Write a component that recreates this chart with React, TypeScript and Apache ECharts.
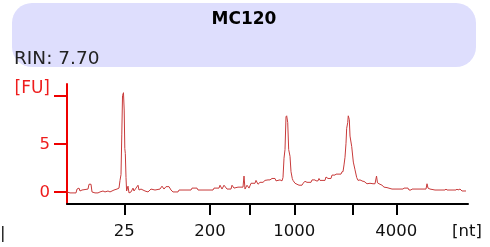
import React, { useEffect, useRef } from "react";
import * as echarts from "echarts";

// Ladder: size (nt) and migration time (s) of each x-axis tick
const ladderNt = [25, 200, 500, 1000, 2000, 4000];
const ladderTime = [26.16, 36.88, 41.81, 47.41, 54.66, 60.16];
const labeledNt = [25, 200, 1000, 4000];

// Fluorescence axis
const fuTicks = [0, 5, 10];
const fuLabels = [0, 5];

// Electropherogram trace: migration time (s) and fluorescence (FU)
const traceTime = [
  19.0, 19.375, 20.125, 20.25, 20.5, 20.625, 20.875, 21.25, 21.625, 21.75, 22.0, 22.125, 22.5, 22.875,
  23.125, 23.5, 23.75, 24.125, 24.375, 24.875, 25.25, 25.5, 25.625, 25.75, 25.85, 25.94, 26.06, 26.15,
  26.225, 26.29, 26.375, 26.45, 26.625, 26.75, 27.0, 27.25, 27.375, 27.625, 27.875, 28.0, 28.25, 28.75,
  29.125, 29.5, 30.0, 30.625, 30.875, 31.125, 31.375, 31.75, 32.0, 32.25, 32.875, 33.0, 34.5, 34.625,
  35.25, 35.375, 37.25, 37.375, 38.0, 38.125, 38.375, 38.625, 39.0, 39.5, 39.625, 39.875, 40.375, 41.0,
  41.125, 41.25, 41.5, 41.75, 42.0, 42.5, 42.625, 42.875, 43.125, 43.5, 43.75, 44.125, 44.375, 44.625,
  45.0, 45.125, 45.625, 45.875, 46.0, 46.125, 46.25, 46.375, 46.46, 46.59, 46.71, 46.875, 47.0, 47.16,
  47.25, 47.5, 48.0, 48.375, 48.5, 48.75, 49.0, 49.5, 49.625, 50.0, 50.125, 50.375, 50.5, 50.625, 51.25,
  51.375, 51.625, 52.0, 52.125, 52.5, 52.625, 53.25, 53.375, 53.5, 53.625, 53.75, 53.875, 53.96, 54.09,
  54.16, 54.29, 54.375, 54.59, 54.79, 55.0, 55.21, 55.375, 55.625, 56.0, 56.125, 56.5, 56.875, 57.25,
  57.5, 57.69, 57.81, 58.0, 58.375, 58.625, 59.0, 59.625, 61.0, 61.125, 61.625, 61.75, 62.0, 62.125,
  63.875, 64.0, 64.125, 64.375, 65.0, 66.25, 66.375, 66.5, 67.625, 67.75, 67.875, 68.125, 68.375, 68.875,
];
const traceFU = [
  0, -0.1, -0.1, 0.3, 0.4, 0.1, 0.2, 0.25, 0.3, 0.8, 0.8, 0.0, -0.1, -0.1,
  0.0, 0.1, 0.0, 0.1, 0.0, 0.2, 0.3, 0.4, 1.2, 1.8, 6, 10.0, 10.3, 8.5,
  4.5, 4.0, 1.5, 0.1, 0.6, -0.1, 0.0, 0.4, 0.1, 0.4, 0.7, 0.2, 0.3, 0.1,
  0.0, 0.3, 0.2, 0.3, 0.6, 0.3, 0.55, 0.55, 0.2, 0.0, 0.0, 0.2, 0.2, 0.4,
  0.4, 0.2, 0.2, 0.4, 0.4, 0.7, 0.3, 0.7, 0.3, 0.3, 0.7, 0.4, 0.5, 0.5,
  1.65, 0.3, 0.7, 0.4, 0.9, 0.9, 1.2, 0.8, 1.0, 1.0, 1.2, 1.25, 1.25, 1.4,
  1.4, 1.15, 1.25, 1.15, 1.5, 3.5, 4.4, 7.8, 7.9, 7.2, 4.4, 3.7, 2.1, 1.4,
  1.2, 0.9, 0.7, 0.7, 0.9, 1.1, 1.0, 1.0, 1.25, 1.25, 1.15, 1.15, 1.4, 1.2, 1.2,
  1.55, 1.4, 1.4, 1.75, 1.75, 1.85, 1.85, 2.1, 2.1, 2.8, 3.6, 5.05, 6.6, 7.2,
  7.9, 7.5, 5.8, 4.7, 3.1, 2.3, 1.5, 1.2, 1.25, 1.1, 1.1, 0.85, 0.9, 0.85,
  0.85, 1.65, 0.95, 0.85, 0.7, 0.5, 0.45, 0.3, 0.3, 0.4, 0.4, 0.2, 0.2, 0.3,
  0.3, 0.85, 0.4, 0.3, 0.2, 0.2, 0.3, 0.2, 0.2, 0.3, 0.2, 0.3, 0.1, 0.1,
];

const sampleName = "MC120";
const rinText = "RIN: 7.70";

export default function App() {
  const ref = useRef<HTMLDivElement>(null);

  useEffect(() => {
    if (!ref.current) return;
    const chart = echarts.init(ref.current, null, { renderer: "svg" });
    const labeledTime = labeledNt.map((n) => ladderTime[ladderNt.indexOf(n)]);
    const data = traceTime.map((t, i) => [t, traceFU[i]]);
    const sans = "'DejaVu Sans', Verdana, sans-serif";
    chart.setOption({
      animation: false,
      grid: { left: 67, right: 22, top: 84, bottom: 43 },
      xAxis: {
        type: "value",
        min: 19,
        max: 69.125,
        axisLine: { onZero: false, lineStyle: { color: "#000", width: 2 } },
        axisTick: { customValues: ladderTime, length: 11, lineStyle: { color: "#000", width: 2 } },
        axisLabel: {
          customValues: labeledTime,
          margin: 18,
          fontSize: 16.5,
          fontFamily: sans,
          color: "#111",
          formatter: (v: number) => {
            let best = 0;
            ladderTime.forEach((t, i) => {
              if (Math.abs(t - v) < Math.abs(ladderTime[best] - v)) best = i;
            });
            return String(ladderNt[best]);
          },
        },
        splitLine: { show: false },
      },
      yAxis: {
        type: "value",
        min: -1.25,
        max: 11.2,
        axisLine: { show: true, lineStyle: { color: "#ee0000", width: 2 } },
        axisTick: { show: true, customValues: fuTicks, length: 13, lineStyle: { color: "#ee0000", width: 2 } },
        axisLabel: { customValues: fuLabels, margin: 17, fontSize: 16.5, fontFamily: sans, color: "#ee1c1c" },
        splitLine: { show: false },
      },
      series: [
        {
          type: "line",
          data,
          showSymbol: false,
          symbol: "none",
          lineStyle: { color: "#c83a3a", width: 1 },
          z: 3,
        },
      ],
      graphic: [
        {
          type: "rect",
          shape: { x: 12, y: 3, width: 464, height: 64, r: 20 },
          style: { fill: "#dedefd" },
          z: -10,
        },
        {
          type: "text",
          x: 244,
          y: 18,
          style: {
            text: sampleName,
            fontFamily: sans,
            fontWeight: "bold",
            fontSize: 17,
            fill: "#000",
            textAlign: "center",
            textVerticalAlign: "middle",
          },
        },
        {
          type: "text",
          x: 14,
          y: 57,
          style: { text: rinText, fontFamily: sans, fontSize: 18.5, fill: "#222", textAlign: "left", textVerticalAlign: "middle" },
        },
        {
          type: "text",
          x: 50,
          y: 87,
          style: { text: "[FU]", fontFamily: sans, fontSize: 17, fill: "#ee1c1c", textAlign: "right", textVerticalAlign: "middle" },
        },
        {
          type: "text",
          x: 467,
          y: 230,
          style: { text: "[nt]", fontFamily: sans, fontSize: 16.5, fill: "#111", textAlign: "center", textVerticalAlign: "middle" },
        },
        {
          type: "text",
          x: 0,
          y: 232,
          style: { text: "|", fontFamily: sans, fontSize: 16.5, fill: "#111", textAlign: "left", textVerticalAlign: "middle" },
        },
      ],
    });
    return () => chart.dispose();
  }, []);

  return <div ref={ref} style={{ position: "fixed", left: 0, top: 0, width: 490, height: 247 }} />;
}
